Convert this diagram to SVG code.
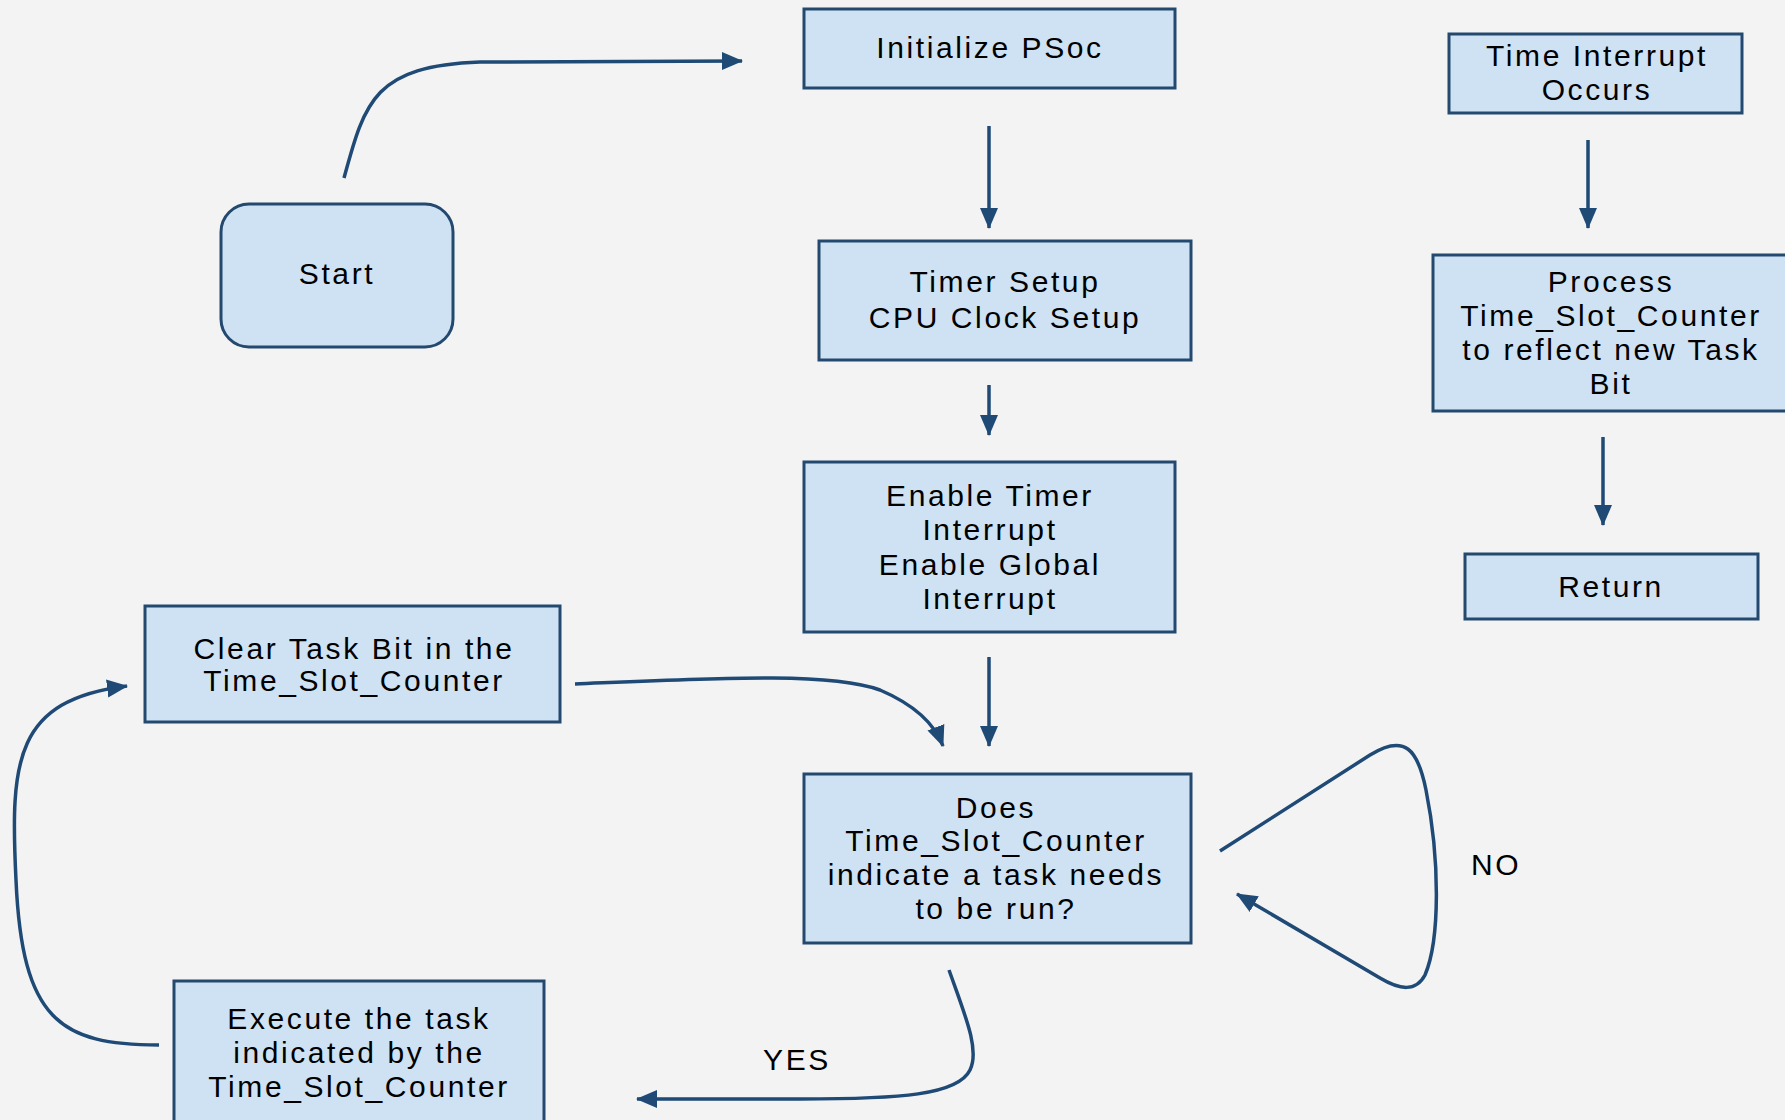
<svg xmlns="http://www.w3.org/2000/svg" width="1785" height="1120" viewBox="0 0 1785 1120">
  <style>
    .box { fill: #cfe2f3; stroke: #24496f; stroke-width: 3; }
    .lbl { font-family: "Liberation Sans", Arial, sans-serif; font-size: 30px; letter-spacing: 2.6px; fill: #000; text-anchor: middle; }
    .edge { fill: none; stroke: #1f4a76; stroke-width: 3.5; }
  </style>
  <defs>
    <marker id="arrow" markerUnits="userSpaceOnUse" markerWidth="22" markerHeight="20" refX="20" refY="10" orient="auto">
      <path d="M0,1 L21,10 L0,19 Z" fill="#1f4a76"/>
    </marker>
  </defs>

  <rect width="1785" height="1120" fill="#f3f3f3"/>

  <!-- connectors -->
  <g id="connectors">
    <path class="edge" d="M344,178 C365,100 375,66 480,62 L742,61" marker-end="url(#arrow)"/>
    <path class="edge" d="M989,126 L989,228" marker-end="url(#arrow)"/>
    <path class="edge" d="M989,385 L989,435" marker-end="url(#arrow)"/>
    <path class="edge" d="M989,657 L989,746" marker-end="url(#arrow)"/>
    <path class="edge" d="M575,684 C720,678 830,672 880,690 C915,705 935,725 943,746" marker-end="url(#arrow)"/>
    <path class="edge" d="M159,1045 C60,1045 22,1020 16,880 C10,760 15,700 127,686" marker-end="url(#arrow)"/>
    <path class="edge" d="M1220,851 L1370,755 C1405,733 1418,750 1426,790 C1440,860 1440,940 1425,975 C1416,992 1400,990 1380,978 L1237,894" marker-end="url(#arrow)"/>
    <path class="edge" d="M949,970 C965,1015 980,1050 970,1070 C958,1095 900,1099 800,1099 L637,1099" marker-end="url(#arrow)"/>
    <path class="edge" d="M1588,140 L1588,228" marker-end="url(#arrow)"/>
    <path class="edge" d="M1603,437 L1603,525" marker-end="url(#arrow)"/>
  </g>

  <g id="start">
    <rect class="box" x="221" y="204" width="232" height="143" rx="28" ry="28"/>
    <text class="lbl" x="337" y="284">Start</text>
  </g>

  <g id="init-psoc">
    <rect class="box" x="804" y="9" width="371" height="79"/>
    <text class="lbl" x="990" y="58">Initialize PSoc</text>
  </g>

  <g id="timer-setup">
    <rect class="box" x="819" y="241" width="372" height="119"/>
    <text class="lbl" x="1005" y="292">Timer Setup</text>
    <text class="lbl" x="1005" y="328">CPU Clock Setup</text>
  </g>

  <g id="enable-interrupts">
    <rect class="box" x="804" y="462" width="371" height="170"/>
    <text class="lbl" x="990" y="506">Enable Timer</text>
    <text class="lbl" x="990" y="540">Interrupt</text>
    <text class="lbl" x="990" y="575">Enable Global</text>
    <text class="lbl" x="990" y="609">Interrupt</text>
  </g>

  <g id="check-counter">
    <rect class="box" x="804" y="774" width="387" height="169"/>
    <text class="lbl" x="996" y="818">Does</text>
    <text class="lbl" x="996" y="851">Time_Slot_Counter</text>
    <text class="lbl" x="996" y="885">indicate a task needs</text>
    <text class="lbl" x="996" y="919">to be run?</text>
  </g>

  <g id="clear-task-bit">
    <rect class="box" x="145" y="606" width="415" height="116"/>
    <text class="lbl" x="354" y="659">Clear Task Bit in the</text>
    <text class="lbl" x="354" y="691">Time_Slot_Counter</text>
  </g>

  <g id="execute-task">
    <rect class="box" x="174" y="981" width="370" height="150"/>
    <text class="lbl" x="359" y="1029">Execute the task</text>
    <text class="lbl" x="359" y="1063">indicated by the</text>
    <text class="lbl" x="359" y="1097">Time_Slot_Counter</text>
  </g>

  <g id="time-interrupt">
    <rect class="box" x="1449" y="34" width="293" height="79"/>
    <text class="lbl" x="1597" y="66">Time Interrupt</text>
    <text class="lbl" x="1597" y="100">Occurs</text>
  </g>

  <g id="process-counter">
    <rect class="box" x="1433" y="255" width="355" height="156"/>
    <text class="lbl" x="1611" y="292">Process</text>
    <text class="lbl" x="1611" y="326">Time_Slot_Counter</text>
    <text class="lbl" x="1611" y="360">to reflect new Task</text>
    <text class="lbl" x="1611" y="394">Bit</text>
  </g>

  <g id="return">
    <rect class="box" x="1465" y="554" width="293" height="65"/>
    <text class="lbl" x="1611" y="597">Return</text>
  </g>

  <g id="edge-labels">
    <text class="lbl" x="797" y="1070">YES</text>
    <text class="lbl" x="1496" y="875">NO</text>
  </g>
</svg>
